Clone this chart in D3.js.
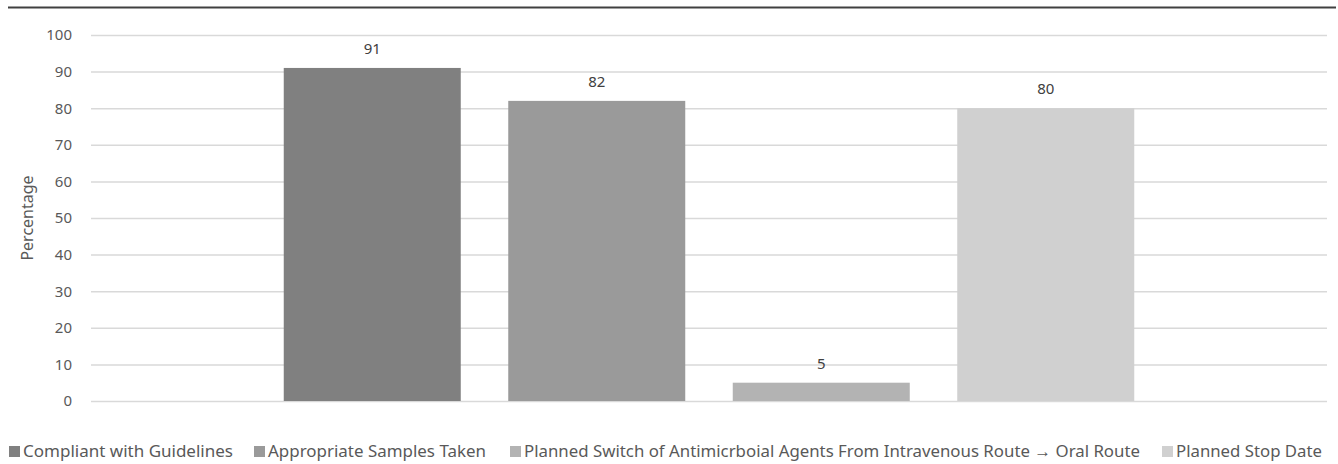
<!DOCTYPE html>
<html>
<head>
<meta charset="utf-8">
<script src="https://cdn.jsdelivr.net/npm/d3@7"></script>
<style>
  html, body { margin: 0; padding: 0; background: #fff; }
  svg { display: block; }
  text { font-family: "Noto Sans", "Open Sans", sans-serif; }
</style>
</head>
<body>
<svg id="chart" width="1338" height="464"></svg>
<script>
// Series (one category, four series side by side)
const seriesNames = [
  "Compliant with Guidelines",
  "Appropriate Samples Taken",
  "Planned Switch of Antimicrboial Agents From Intravenous Route \u2192 Oral Route",
  "Planned Stop Date"
];
const seriesValues = [91, 82, 5, 80];
const seriesColors = ["#808080", "#9a9a9a", "#b3b3b3", "#d0d0d0"];
const yTicks = [0, 10, 20, 30, 40, 50, 60, 70, 80, 90, 100];
const yTitle = "Percentage";

// Legend text widths (condensed legend font)
const legendTextWidths = [210, 218, 616, 146];
const legendStarts = [9, 254, 510, 1162];

const svg = d3.select("#chart");
const plot = { left: 91, right: 1327, top: 35, bottom: 401 };

// Top rule
svg.append("line")
  .attr("x1", 8).attr("x2", 1336).attr("y1", 7.5).attr("y2", 7.5)
  .attr("stroke", "#404040").attr("stroke-width", 2);

const y = d3.scaleLinear().domain([0, 100]).range([plot.bottom, plot.top]);

// Bars occupy the middle of the plot area
const groupCenter = (plot.left + plot.right) / 2;
const step = 224.5, barW = 177;
const x = d3.scaleBand()
  .domain(seriesNames)
  .range([groupCenter - 2 * step, groupCenter + 2 * step])
  .paddingInner(1 - barW / step)
  .paddingOuter((1 - barW / step) / 2);

// Gridlines + tick labels via axis
const yAxis = d3.axisLeft(y).tickValues(yTicks).tickSize(-(plot.right - plot.left)).tickPadding(19);
const gy = svg.append("g").attr("transform", `translate(${plot.left},0)`).call(yAxis);
gy.select(".domain").remove();
gy.selectAll(".tick line").attr("stroke", "#d9d9d9").attr("stroke-width", 1.5);
gy.selectAll(".tick text")
  .attr("fill", "#595959")
  .style("font-size", "15px")
  .style("font-family", "'Noto Sans', sans-serif");

// Bars
svg.append("g").selectAll("rect")
  .data(seriesNames)
  .join("rect")
  .attr("x", d => x(d))
  .attr("width", x.bandwidth())
  .attr("y", (d, i) => y(seriesValues[i]))
  .attr("height", (d, i) => y(0) - y(seriesValues[i]))
  .attr("fill", (d, i) => seriesColors[i]);

// Value labels
svg.append("g").selectAll("text")
  .data(seriesNames)
  .join("text")
  .attr("x", d => x(d) + x.bandwidth() / 2)
  .attr("y", (d, i) => y(seriesValues[i]) - 14)
  .attr("text-anchor", "middle")
  .attr("fill", "#404040")
  .style("font-size", "15px")
  .text((d, i) => seriesValues[i]);

// Y axis title
svg.append("text")
  .attr("transform", `translate(33, ${(plot.top + plot.bottom) / 2}) rotate(-90)`)
  .attr("text-anchor", "middle")
  .attr("fill", "#595959")
  .style("font-size", "16px")
  .text(yTitle);

// Legend
const legend = svg.append("g");
seriesNames.forEach((name, i) => {
  const x0 = legendStarts[i];
  legend.append("rect")
    .attr("x", x0).attr("y", 446).attr("width", 11).attr("height", 11)
    .attr("fill", seriesColors[i]);
  legend.append("text")
    .attr("x", x0 + 14).attr("y", 457)
    .attr("fill", "#595959")
    .style("font-size", "17px")
    .attr("textLength", legendTextWidths[i])
    .attr("lengthAdjust", "spacingAndGlyphs")
    .text(name);
});
</script>
</body>
</html>
